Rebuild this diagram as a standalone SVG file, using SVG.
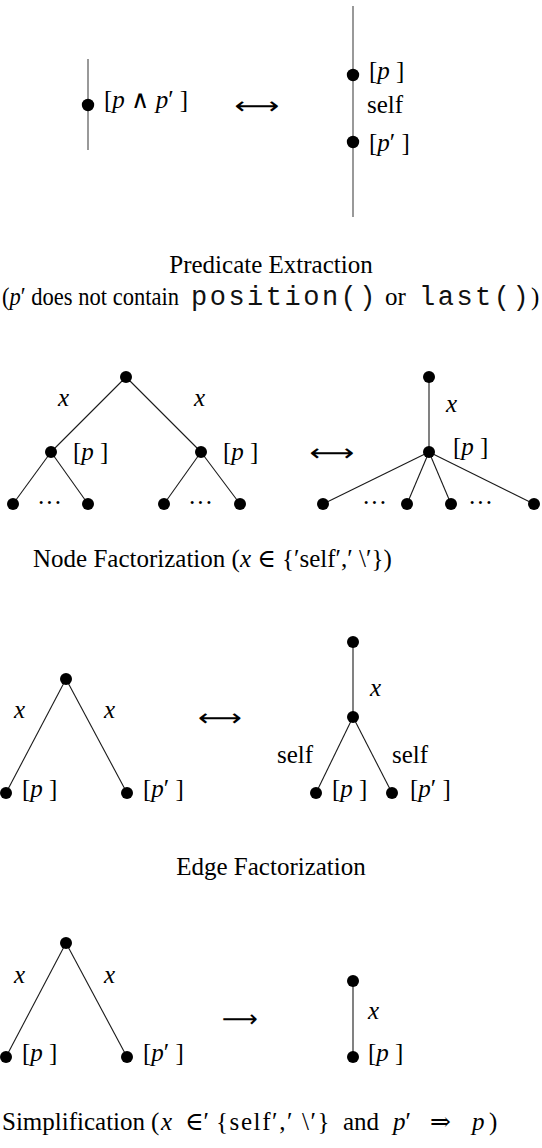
<svg xmlns="http://www.w3.org/2000/svg" width="542" height="1148" viewBox="0 0 542 1148">
<style>
  .edge { stroke: #1a1a1a; stroke-width: 1.1; fill: none; }
  .gedge { stroke: #6e6e6e; stroke-width: 1.4; fill: none; }
  .dot { fill: #000; }
  .t { font-family: "Liberation Serif", "DejaVu Serif", serif; font-size: 25px; fill: #000; }
  .cap { font-family: "Liberation Serif", "DejaVu Serif", serif; font-size: 25px; fill: #000; }
  .mono { font-family: "Liberation Mono", "DejaVu Sans Mono", monospace; font-size: 27px; letter-spacing: 2.5px; fill: #111; }
  .i { font-style: italic; }
  .sym { font-family: "DejaVu Sans", "DejaVu Serif", sans-serif; font-size: 24px; fill: #000; }
</style>
<rect width="542" height="1148" fill="#fff"/>

<!-- connectors -->
<g id="connectors">
  <!-- predicate extraction -->
  <line class="gedge" x1="88" y1="59" x2="88" y2="150"/>
  <line class="gedge" x1="353" y1="6" x2="353" y2="217"/>
  <!-- node factorization left -->
  <line class="edge" x1="126" y1="377" x2="51" y2="452"/>
  <line class="edge" x1="126" y1="377" x2="201" y2="452"/>
  <line class="edge" x1="51" y1="452" x2="13" y2="504"/>
  <line class="edge" x1="51" y1="452" x2="88" y2="504"/>
  <line class="edge" x1="201" y1="452" x2="164" y2="504"/>
  <line class="edge" x1="201" y1="452" x2="240" y2="504"/>
  <!-- node factorization right -->
  <line class="edge" x1="429" y1="377" x2="429" y2="452"/>
  <line class="edge" x1="429" y1="452" x2="323" y2="504"/>
  <line class="edge" x1="429" y1="452" x2="407" y2="504"/>
  <line class="edge" x1="429" y1="452" x2="451" y2="504"/>
  <line class="edge" x1="429" y1="452" x2="534" y2="504"/>
  <!-- edge factorization -->
  <line class="edge" x1="66" y1="679" x2="6" y2="793"/>
  <line class="edge" x1="66" y1="679" x2="127" y2="793"/>
  <line class="edge" x1="353" y1="642" x2="353" y2="717"/>
  <line class="edge" x1="353" y1="717" x2="316" y2="793"/>
  <line class="edge" x1="353" y1="717" x2="392" y2="793"/>
  <!-- simplification -->
  <line class="edge" x1="66" y1="943" x2="6" y2="1057"/>
  <line class="edge" x1="66" y1="943" x2="127" y2="1057"/>
  <line class="edge" x1="353" y1="981" x2="353" y2="1057"/>
</g>

<!-- Predicate Extraction -->
<g id="pe-left">
  <circle class="dot" cx="88" cy="105" r="6.2"/>
  <text class="t" x="104" y="108">[<tspan class="i">p</tspan> ∧ <tspan class="i">p</tspan>′ ]</text>
</g>
<g id="pe-arrow"><text class="sym" x="257" y="114" text-anchor="middle" textLength="45" lengthAdjust="spacingAndGlyphs">⟷</text></g>
<g id="pe-right-top">
  <circle class="dot" cx="353" cy="75" r="6.2"/>
  <text class="t" x="369" y="79">[<tspan class="i">p</tspan> ]</text>
</g>
<text class="t" x="367" y="113">self</text>
<g id="pe-right-bottom">
  <circle class="dot" cx="353" cy="142" r="6.2"/>
  <text class="t" x="369" y="151">[<tspan class="i">p</tspan>′ ]</text>
</g>
<g id="pe-caption">
  <text class="cap" x="271" y="273" text-anchor="middle">Predicate Extraction</text>
  <text class="cap" x="2" y="305" textLength="177" lengthAdjust="spacingAndGlyphs">(<tspan class="i">p</tspan>′ does not contain</text>
  <text class="mono" x="191" y="305">position()</text>
  <text class="cap" x="385" y="305">or</text>
  <text class="mono" x="419" y="305">last()</text>
  <text class="cap" x="531" y="305">)</text>
</g>

<!-- Node Factorization -->
<g id="nf-root"><circle class="dot" cx="126" cy="377" r="6"/></g>
<text class="t i" x="58" y="406">x</text>
<text class="t i" x="194" y="406">x</text>
<g id="nf-mid-left">
  <circle class="dot" cx="51" cy="452" r="6"/>
  <text class="t" x="73" y="460">[<tspan class="i">p</tspan> ]</text>
</g>
<g id="nf-mid-right">
  <circle class="dot" cx="201" cy="452" r="6"/>
  <text class="t" x="223" y="460">[<tspan class="i">p</tspan> ]</text>
</g>
<g id="nf-leaf1"><circle class="dot" cx="13" cy="504" r="6"/></g>
<g id="nf-leaf2"><circle class="dot" cx="88" cy="504" r="6"/></g>
<g id="nf-leaf3"><circle class="dot" cx="164" cy="504" r="6"/></g>
<g id="nf-leaf4"><circle class="dot" cx="240" cy="504" r="6"/></g>
<text class="t" x="37" y="511" textLength="25" lengthAdjust="spacing">· · ·</text>
<text class="t" x="188" y="511" textLength="25" lengthAdjust="spacing">· · ·</text>
<g id="nf-arrow"><text class="sym" x="332" y="461" text-anchor="middle" textLength="45" lengthAdjust="spacingAndGlyphs">⟷</text></g>
<g id="nf-r-top"><circle class="dot" cx="429" cy="377" r="6"/></g>
<text class="t i" x="446" y="412">x</text>
<g id="nf-r-center">
  <circle class="dot" cx="429" cy="452" r="6"/>
  <text class="t" x="453" y="455">[<tspan class="i">p</tspan> ]</text>
</g>
<g id="nf-r-leaf1"><circle class="dot" cx="323" cy="504" r="6"/></g>
<g id="nf-r-leaf2"><circle class="dot" cx="407" cy="504" r="6"/></g>
<g id="nf-r-leaf3"><circle class="dot" cx="451" cy="504" r="6"/></g>
<g id="nf-r-leaf4"><circle class="dot" cx="534" cy="504" r="6"/></g>
<text class="t" x="362" y="511" textLength="25" lengthAdjust="spacing">· · ·</text>
<text class="t" x="468" y="511" textLength="25" lengthAdjust="spacing">· · ·</text>
<text class="cap" x="33" y="567">Node Factorization (<tspan class="i">x</tspan> ∈ {′self′,′ \′})</text>

<!-- Edge Factorization -->
<g id="ef-root"><circle class="dot" cx="66" cy="679" r="6"/></g>
<text class="t i" x="14" y="718">x</text>
<text class="t i" x="104" y="718">x</text>
<g id="ef-leaf-left">
  <circle class="dot" cx="6" cy="793" r="6"/>
  <text class="t" x="22" y="797">[<tspan class="i">p</tspan> ]</text>
</g>
<g id="ef-leaf-right">
  <circle class="dot" cx="127" cy="793" r="6"/>
  <text class="t" x="143" y="797">[<tspan class="i">p</tspan>′ ]</text>
</g>
<g id="ef-arrow"><text class="sym" x="220" y="726" text-anchor="middle" textLength="44" lengthAdjust="spacingAndGlyphs">⟷</text></g>
<g id="ef-r-top"><circle class="dot" cx="353" cy="642" r="6"/></g>
<text class="t i" x="370" y="696">x</text>
<g id="ef-r-center"><circle class="dot" cx="353" cy="717" r="6"/></g>
<text class="t" x="277" y="763">self</text>
<text class="t" x="392" y="763">self</text>
<g id="ef-r-leaf-left">
  <circle class="dot" cx="316" cy="793" r="6"/>
  <text class="t" x="332" y="797">[<tspan class="i">p</tspan> ]</text>
</g>
<g id="ef-r-leaf-right">
  <circle class="dot" cx="392" cy="793" r="6"/>
  <text class="t" x="410" y="797">[<tspan class="i">p</tspan>′ ]</text>
</g>
<text class="cap" x="271" y="875" text-anchor="middle">Edge Factorization</text>

<!-- Simplification -->
<g id="s-root"><circle class="dot" cx="66" cy="943" r="6"/></g>
<text class="t i" x="14" y="983">x</text>
<text class="t i" x="104" y="983">x</text>
<g id="s-leaf-left">
  <circle class="dot" cx="6" cy="1057" r="6"/>
  <text class="t" x="22" y="1061">[<tspan class="i">p</tspan> ]</text>
</g>
<g id="s-leaf-right">
  <circle class="dot" cx="127" cy="1057" r="6"/>
  <text class="t" x="143" y="1061">[<tspan class="i">p</tspan>′ ]</text>
</g>
<g id="s-arrow"><text class="sym" x="240" y="1027" text-anchor="middle" textLength="36" lengthAdjust="spacingAndGlyphs">⟶</text></g>
<g id="s-r-top"><circle class="dot" cx="353" cy="981" r="6"/></g>
<text class="t i" x="368" y="1019">x</text>
<g id="s-r-bottom">
  <circle class="dot" cx="353" cy="1057" r="6"/>
  <text class="t" x="368" y="1061">[<tspan class="i">p</tspan> ]</text>
</g>
<text class="cap" y="1130"><tspan x="2">Simplification</tspan><tspan x="151">(</tspan><tspan x="161" class="i">x</tspan><tspan x="185">∈′</tspan><tspan x="216" letter-spacing="1.6">{self′,′ \′}</tspan><tspan x="343">and</tspan><tspan x="393" class="i">p</tspan>′<tspan x="430">⇒</tspan><tspan x="472" class="i">p</tspan><tspan x="489">)</tspan></text>
</svg>
